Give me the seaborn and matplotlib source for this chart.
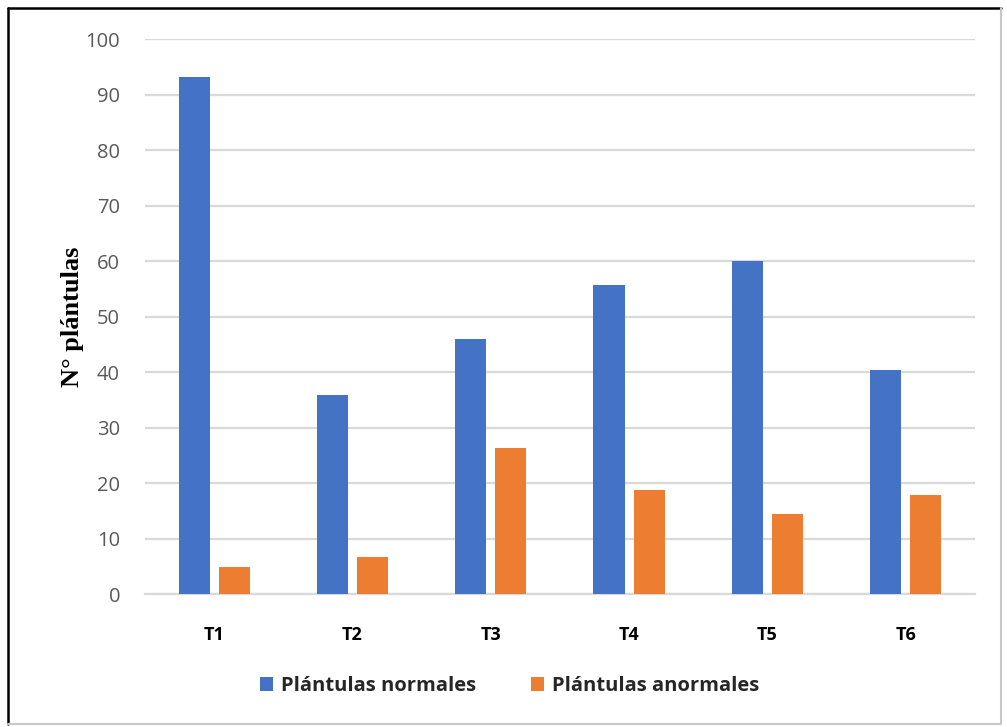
import matplotlib
matplotlib.use("Agg")
import matplotlib.pyplot as plt
import seaborn as sns
import pandas as pd
from matplotlib.lines import Line2D
from matplotlib.patches import Patch

tratamientos = ["T1", "T2", "T3", "T4", "T5", "T6"]
normales = [93.3, 35.9, 46.0, 55.8, 60.0, 40.4]
anormales = [4.9, 6.7, 26.4, 18.8, 14.4, 17.9]
series = ["Plántulas normales", "Plántulas anormales"]
colores = ["#4472C4", "#ED7D31"]
yticks = [0, 10, 20, 30, 40, 50, 60, 70, 80, 90, 100]

df = pd.DataFrame({
    "Tratamiento": tratamientos * 2,
    "Serie": [series[0]] * len(tratamientos) + [series[1]] * len(tratamientos),
    "Valor": normales + anormales,
})

sns.set_theme(style="white")
plt.rcParams["font.family"] = ["Open Sans", "DejaVu Sans"]

fig = plt.figure(figsize=(10.07, 7.27), dpi=100)
ax = fig.add_axes([0.144, 0.1825, 0.824, 0.7632])

sns.barplot(data=df, x="Tratamiento", y="Valor", hue="Serie",
            palette=colores, width=0.58, gap=0.225, ax=ax,
            saturation=1, legend=False, zorder=3, edgecolor="none")

ax.set_xlim(-0.5, 5.5)
ax.set_ylim(0, 100)
ax.set_yticks(yticks)
ax.set_yticklabels([str(v) for v in yticks], color="#595959", fontsize=14.5)
ax.yaxis.grid(True, color="#d9d9d9", linewidth=1.6, zorder=0)
ax.set_axisbelow(True)
for s in ["top", "right", "left"]:
    ax.spines[s].set_visible(False)
ax.spines["bottom"].set_color("#d9d9d9")
ax.spines["bottom"].set_linewidth(1.6)
ax.tick_params(axis="y", length=0, pad=18)
ax.tick_params(axis="x", length=0, pad=23)
for lbl in ax.get_xticklabels():
    lbl.set_fontweight("bold")
    lbl.set_fontsize(13)
    lbl.set_color("black")
ax.set_xlabel("")
ax.set_ylabel("N° plántulas", family="Liberation Serif", fontweight="bold",
              fontsize=19, color="black", labelpad=1)

handles = [Patch(facecolor=c, edgecolor="none") for c in colores]
fig.legend(handles, series, loc="center", bbox_to_anchor=(0.506, 1 - 686 / 727),
           ncol=2, frameon=False, handlelength=0.65, handleheight=0.65,
           handletextpad=0.4, columnspacing=2.7,
           prop={"weight": "bold", "size": 14.5})

# Frame around the chart area
fig.add_artist(Line2D([8 / 1007, 8 / 1007], [1 - 8 / 727, 1 - 724 / 727],
                      transform=fig.transFigure, color="black", linewidth=1.8))
fig.add_artist(Line2D([8 / 1007, 1001 / 1007], [1 - 8 / 727, 1 - 8 / 727],
                      transform=fig.transFigure, color="black", linewidth=1.8))
fig.add_artist(Line2D([1001 / 1007, 1001 / 1007], [1 - 8 / 727, 1 - 724 / 727],
                      transform=fig.transFigure, color="#c8c8c8", linewidth=1.5))
fig.add_artist(Line2D([8 / 1007, 1001 / 1007], [1 - 724 / 727, 1 - 724 / 727],
                      transform=fig.transFigure, color="#c8c8c8", linewidth=1.5))

fig.savefig("out.png", dpi=100)
